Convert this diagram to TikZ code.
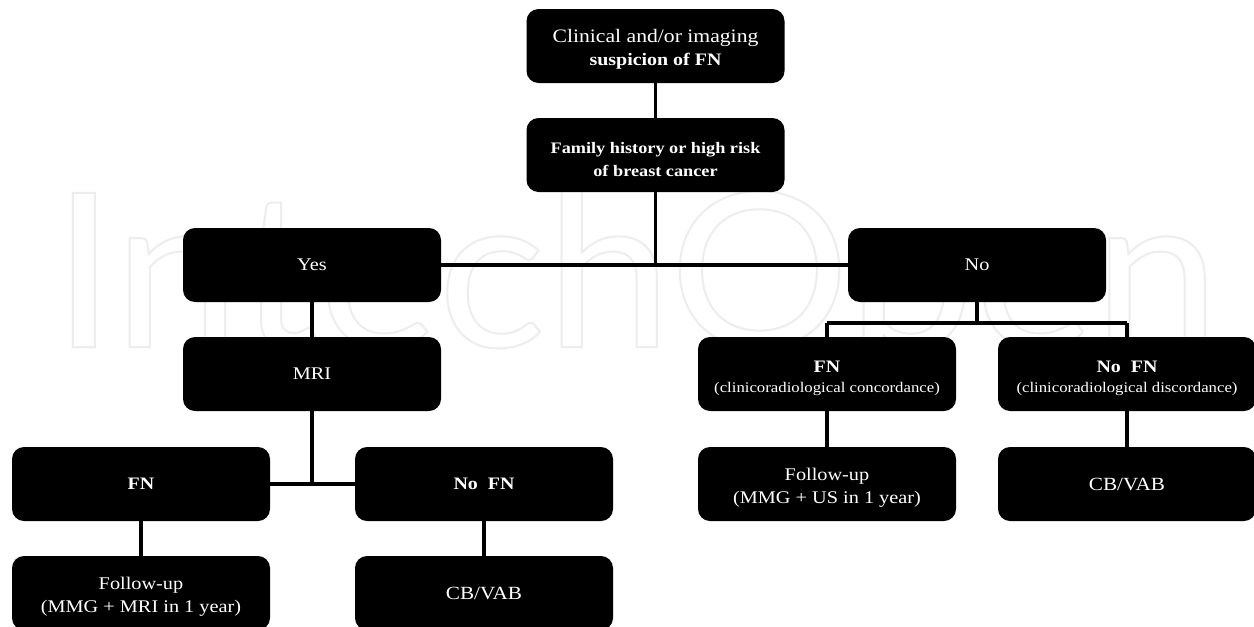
\documentclass[tikz,border=0pt]{standalone}
\usepackage{fontspec}
\setmainfont[FakeStretch=1.14]{Liberation Serif}
\newfontfamily\wmfont[FakeStretch=1.05]{Lato}
\tikzset{
  flowbox/.style={fill=black,text=white,rounded corners=12pt,minimum width=258pt,minimum height=74pt,inner sep=0pt,align=center,font=\fontsize{17.8}{23}\selectfont},
  thick link/.style={line width=3.8pt,black},
  thin link/.style={line width=3.2pt,black},
}
\newcommand{\subtxt}[1]{{\fontsize{14.7}{19}\selectfont #1}}
\newcommand{\bfl}[1]{{\fontsize{17.5}{23}\selectfont\bfseries #1}}
\newcommand{\cbv}{{\fontsize{18.6}{23}\selectfont CB/VAB}}
\newcommand{\lowr}{\rule{0pt}{20pt}}
\begin{document}
\begin{tikzpicture}[x=1pt,y=-1pt]
\useasboundingbox (0,0) rectangle (1254,627);
\fill[white] (0,0) rectangle (1254,627);
\node[anchor=base west,inner sep=0pt] (wm) at (52,347) {\special{pdf:code 1 Tr 2 w 0.93 G}\wmfont\fontsize{215}{215}\selectfont IntechOpen\special{pdf:code 0 Tr 0 G}};
\node[flowbox,font=\fontsize{19}{23}\selectfont] (top) at (655.5,46) {\lowr Clinical and/or imaging\\\bfl{suspicion of FN}};
\node[flowbox,font=\fontsize{16}{23}\selectfont\bfseries] (fam) at (655.5,155) {\lowr Family history or high risk\\of breast cancer};
\node[flowbox] (yes) at (312,265) {Yes};
\node[flowbox] (no) at (977,265) {No};
\node[flowbox] (mri) at (312,374) {MRI};
\node[flowbox] (fnl) at (141,484) {\bfl{FN}};
\node[flowbox] (nfl) at (484,484) {\bfl{No\ \ FN}};
\node[flowbox] (ful) at (141,593) {\lowr Follow-up\\(MMG + MRI in 1 year)};
\node[flowbox] (cbl) at (484,593) {\cbv};
\node[flowbox] (fnr) at (827,374) {\lowr\bfl{FN}\\[-3pt]\subtxt{(clinicoradiological concordance)}};
\node[flowbox] (nfr) at (1127,374) {\lowr\bfl{No\ \ FN}\\[-3pt]\subtxt{(clinicoradiological discordance)}};
\node[flowbox] (fur) at (827,484) {\lowr Follow-up\\(MMG + US in 1 year)};
\node[flowbox] (cbr) at (1127,484) {\cbv};
\coordinate (jtop) at (fam |- yes);
\coordinate (jmri) at (mri |- fnl);
\coordinate (jno) at (977,323);
\draw[thick link] (top) -- (fam);
\draw[thick link] (fam) -- (jtop);
\draw[thick link] (yes) -- (no);
\draw[thick link] (yes) -- (mri);
\draw[thick link] (mri) -- (jmri);
\draw[thin link] (fnl) -- (nfl);
\draw[thick link] (fnl) -- (ful);
\draw[thick link] (nfl) -- (cbl);
\draw[thick link] (no) -- (jno);
\draw[thin link] (fnr |- jno) -- (nfr |- jno);
\draw[thin link] (fnr) -- (fnr |- jno);
\draw[thin link] (nfr) -- (nfr |- jno);
\draw[thick link] (fnr) -- (fur);
\draw[thick link] (nfr) -- (cbr);
\end{tikzpicture}
\end{document}
